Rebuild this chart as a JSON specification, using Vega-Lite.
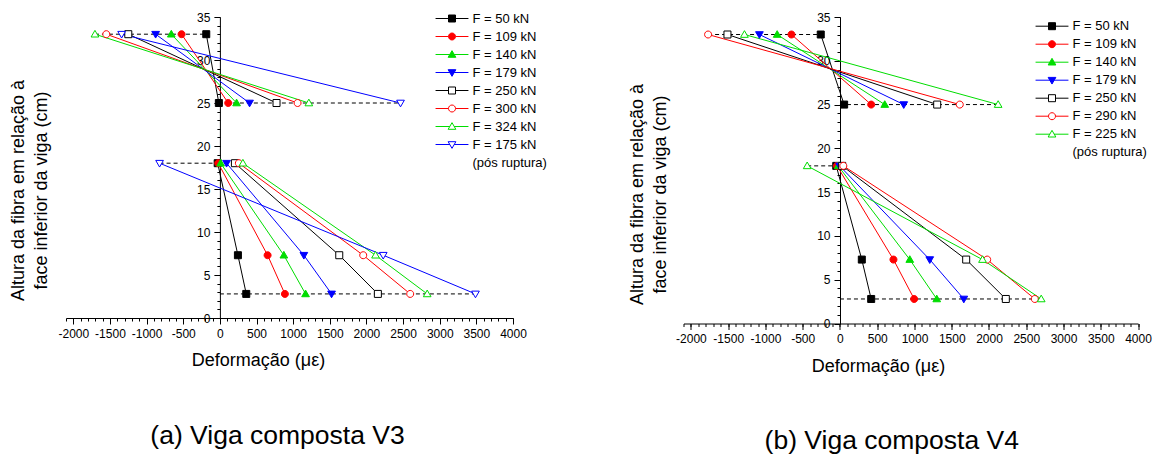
{
  "$schema": "https://vega.github.io/schema/vega-lite/v6.json",
  "padding": {"left": 9, "top": 11, "right": 5, "bottom": 5},
  "config": {
    "font": "Liberation Sans",
    "view": {"stroke": null},
    "concat": {"spacing": 79.5},
    "axis": {"labelFontSize": 12, "titleFontSize": 18, "titleFontWeight": "normal", "domainColor": "black", "tickColor": "black", "labelColor": "black", "titleColor": "black", "grid": false, "labelFlush": false, "labelOverlap": false, "domainWidth": 1, "tickWidth": 1, "labelExpr": "'' + datum.value"},
    "legend": {"labelFont": "Liberation Sans", "labelFontSize": 13, "labelColor": "black"},
    "title": {"font": "Liberation Sans", "fontSize": 26.5, "fontWeight": "normal", "color": "black"}
  },
  "datasets": {
    "va": [
      {"F": "F = 50 kN", "part": "top", "h": 33, "eps": -186},
      {"F": "F = 50 kN", "part": "top", "h": 25, "eps": -14},
      {"F": "F = 50 kN", "part": "bot", "h": 18, "eps": -30},
      {"F": "F = 50 kN", "part": "bot", "h": 7.3, "eps": 246},
      {"F": "F = 50 kN", "part": "bot", "h": 2.8, "eps": 360},
      {"F": "F = 109 kN", "part": "top", "h": 33, "eps": -523},
      {"F": "F = 109 kN", "part": "top", "h": 25, "eps": 114},
      {"F": "F = 109 kN", "part": "bot", "h": 18, "eps": -22},
      {"F": "F = 109 kN", "part": "bot", "h": 7.3, "eps": 651},
      {"F": "F = 109 kN", "part": "bot", "h": 2.8, "eps": 887},
      {"F": "F = 140 kN", "part": "top", "h": 33, "eps": -663},
      {"F": "F = 140 kN", "part": "top", "h": 25, "eps": 228},
      {"F": "F = 140 kN", "part": "bot", "h": 18, "eps": 10},
      {"F": "F = 140 kN", "part": "bot", "h": 7.3, "eps": 873},
      {"F": "F = 140 kN", "part": "bot", "h": 2.8, "eps": 1169},
      {"F": "F = 179 kN", "part": "top", "h": 33, "eps": -877},
      {"F": "F = 179 kN", "part": "top", "h": 25, "eps": 405},
      {"F": "F = 179 kN", "part": "bot", "h": 18, "eps": 91},
      {"F": "F = 179 kN", "part": "bot", "h": 7.3, "eps": 1146},
      {"F": "F = 179 kN", "part": "bot", "h": 2.8, "eps": 1524},
      {"F": "F = 250 kN", "part": "top", "h": 33, "eps": -1250},
      {"F": "F = 250 kN", "part": "top", "h": 25, "eps": 773},
      {"F": "F = 250 kN", "part": "bot", "h": 18, "eps": 205},
      {"F": "F = 250 kN", "part": "bot", "h": 7.3, "eps": 1629},
      {"F": "F = 250 kN", "part": "bot", "h": 2.8, "eps": 2156},
      {"F": "F = 300 kN", "part": "top", "h": 33, "eps": -1550},
      {"F": "F = 300 kN", "part": "top", "h": 25, "eps": 1060},
      {"F": "F = 300 kN", "part": "bot", "h": 18, "eps": 259},
      {"F": "F = 300 kN", "part": "bot", "h": 7.3, "eps": 1956},
      {"F": "F = 300 kN", "part": "bot", "h": 2.8, "eps": 2597},
      {"F": "F = 324 kN", "part": "top", "h": 33, "eps": -1705},
      {"F": "F = 324 kN", "part": "top", "h": 25, "eps": 1214},
      {"F": "F = 324 kN", "part": "bot", "h": 18, "eps": 314},
      {"F": "F = 324 kN", "part": "bot", "h": 7.3, "eps": 2124},
      {"F": "F = 324 kN", "part": "bot", "h": 2.8, "eps": 2829},
      {"F": "F = 175 kN", "part": "top", "h": 33, "eps": -1341},
      {"F": "F = 175 kN", "part": "top", "h": 25, "eps": 2465},
      {"F": "F = 175 kN", "part": "bot", "h": 18, "eps": -823},
      {"F": "F = 175 kN", "part": "bot", "h": 7.3, "eps": 2229},
      {"F": "F = 175 kN", "part": "bot", "h": 2.8, "eps": 3488}
    ],
    "vb": [
      {"F": "F = 50 kN", "part": "top", "h": 33, "eps": -258},
      {"F": "F = 50 kN", "part": "top", "h": 25, "eps": 56},
      {"F": "F = 50 kN", "part": "bot", "h": 18, "eps": -50},
      {"F": "F = 50 kN", "part": "bot", "h": 7.3, "eps": 293},
      {"F": "F = 50 kN", "part": "bot", "h": 2.8, "eps": 419},
      {"F": "F = 109 kN", "part": "top", "h": 33, "eps": -651},
      {"F": "F = 109 kN", "part": "top", "h": 25, "eps": 419},
      {"F": "F = 109 kN", "part": "bot", "h": 18, "eps": -40},
      {"F": "F = 109 kN", "part": "bot", "h": 7.3, "eps": 718},
      {"F": "F = 109 kN", "part": "bot", "h": 2.8, "eps": 996},
      {"F": "F = 140 kN", "part": "top", "h": 33, "eps": -843},
      {"F": "F = 140 kN", "part": "top", "h": 25, "eps": 601},
      {"F": "F = 140 kN", "part": "bot", "h": 18, "eps": -25},
      {"F": "F = 140 kN", "part": "bot", "h": 7.3, "eps": 937},
      {"F": "F = 140 kN", "part": "bot", "h": 2.8, "eps": 1299},
      {"F": "F = 179 kN", "part": "top", "h": 33, "eps": -1081},
      {"F": "F = 179 kN", "part": "top", "h": 25, "eps": 856},
      {"F": "F = 179 kN", "part": "bot", "h": 18, "eps": -5},
      {"F": "F = 179 kN", "part": "bot", "h": 7.3, "eps": 1205},
      {"F": "F = 179 kN", "part": "bot", "h": 2.8, "eps": 1662},
      {"F": "F = 250 kN", "part": "top", "h": 33, "eps": -1510},
      {"F": "F = 250 kN", "part": "top", "h": 25, "eps": 1305},
      {"F": "F = 250 kN", "part": "bot", "h": 18, "eps": 30},
      {"F": "F = 250 kN", "part": "bot", "h": 7.3, "eps": 1694},
      {"F": "F = 250 kN", "part": "bot", "h": 2.8, "eps": 2226},
      {"F": "F = 290 kN", "part": "top", "h": 33, "eps": -1770},
      {"F": "F = 290 kN", "part": "top", "h": 25, "eps": 1608},
      {"F": "F = 290 kN", "part": "bot", "h": 18, "eps": 45},
      {"F": "F = 290 kN", "part": "bot", "h": 7.3, "eps": 1976},
      {"F": "F = 290 kN", "part": "bot", "h": 2.8, "eps": 2615},
      {"F": "F = 225 kN", "part": "top", "h": 33, "eps": -1282},
      {"F": "F = 225 kN", "part": "top", "h": 25, "eps": 2123},
      {"F": "F = 225 kN", "part": "bot", "h": 18, "eps": -440},
      {"F": "F = 225 kN", "part": "bot", "h": 7.3, "eps": 1913},
      {"F": "F = 225 kN", "part": "bot", "h": 2.8, "eps": 2701}
    ],
    "ra": [
      {"h": 33, "x1": -1705, "x2": -186},
      {"h": 25, "x1": -14, "x2": 2465},
      {"h": 18, "x1": -823, "x2": -30},
      {"h": 2.8, "x1": 0, "x2": 3488}
    ],
    "rb": [
      {"h": 33, "x1": -1770, "x2": -258},
      {"h": 25, "x1": 0, "x2": 2123},
      {"h": 18, "x1": -440, "x2": -50},
      {"h": 2.8, "x1": 0, "x2": 2701}
    ]
  },
  "resolve": {
    "scale": {"stroke": "independent", "fill": "independent", "shape": "independent", "x": "independent", "y": "independent"},
    "legend": {"stroke": "independent", "fill": "independent", "shape": "independent"}
  },
  "hconcat": [
    {
      "width": 447,
      "height": 301,
      "title": {"text": "(a) Viga composta V3", "orient": "bottom", "anchor": "middle", "dx": -12, "offset": 53},
      "resolve": {"axis": {"x": "independent", "y": "independent"}, "scale": {"stroke": "independent", "fill": "independent", "shape": "independent"}},
      "layer": [
        {
          "data": {"name": "ra"},
          "mark": {"type": "rule", "strokeDash": [4, 3], "color": "black", "strokeWidth": 1},
          "encoding": {
            "x": {"field": "x1", "type": "quantitative", "scale": {"domain": [-2100, 4000], "nice": false, "zero": false},
              "axis": {"orient": "bottom", "values": [-2000, -1500, -1000, -500, 0, 500, 1000, 1500, 2000, 2500, 3000, 3500, 4000], "tickSize": 6, "labelPadding": 4, "title": "Deformação (με)", "titleX": 192, "titleY": 42.5, "titleBaseline": "middle", "titleAlign": "center"}},
            "x2": {"field": "x2"},
            "y": {"field": "h", "type": "quantitative", "scale": {"domain": [0, 35], "nice": false, "zero": false},
              "axis": {"orient": "left", "offset": -153.9, "values": [0, 5, 10, 15, 20, 25, 30, 35], "tickSize": 6, "labelPadding": 4, "title": ["Altura da fibra em relação à", "face inferior da viga (cm)"], "titleAngle": -90, "titleX": -201.3, "titleY": 173, "titleBaseline": "middle", "titleAlign": "center", "titleLineHeight": 23}}
          }
        },
        {
          "data": {"name": "va"},
          "mark": {"type": "line", "strokeWidth": 1},
          "encoding": {
            "x": {"field": "eps", "type": "quantitative",
              "axis": {"orient": "bottom", "values": [-2100,-2000,-1900,-1800,-1700,-1600,-1500,-1400,-1300,-1200,-1100,-1000,-900,-800,-700,-600,-500,-400,-300,-200,-100,0,100,200,300,400,500,600,700,800,900,1000,1100,1200,1300,1400,1500,1600,1700,1800,1900,2000,2100,2200,2300,2400,2500,2600,2700,2800,2900,3000,3100,3200,3300,3400,3500,3600,3700,3800,3900,4000], "tickSize": 3, "labels": false, "domain": false, "title": null}},
            "y": {"field": "h", "type": "quantitative",
              "axis": {"orient": "left", "offset": -153.9, "values": [0,1,2,3,4,5,6,7,8,9,10,11,12,13,14,15,16,17,18,19,20,21,22,23,24,25,26,27,28,29,30,31,32,33,34,35], "tickSize": 3, "labels": false, "domain": false, "title": null}},
            "detail": {"field": "part"},
            "order": {"field": "h", "sort": "descending"},
            "stroke": {"field": "F", "type": "nominal", "legend": null,
              "scale": {"domain": ["F = 50 kN", "F = 109 kN", "F = 140 kN", "F = 179 kN", "F = 250 kN", "F = 300 kN", "F = 324 kN", "F = 175 kN", "(pós ruptura)"],
                "range": ["#000000", "#ff0000", "#00dd00", "#0000ff", "#000000", "#ff0000", "#00dd00", "#0000ff", "transparent"]}}
          }
        },
        {
          "data": {"name": "va"},
          "mark": {"type": "point", "filled": true, "size": 49, "strokeWidth": 1, "opacity": 1},
          "encoding": {
            "x": {"field": "eps", "type": "quantitative", "axis": null},
            "y": {"field": "h", "type": "quantitative", "axis": null},
            "stroke": {"field": "F", "type": "nominal", "legend": null,
              "scale": {"domain": ["F = 50 kN", "F = 109 kN", "F = 140 kN", "F = 179 kN", "F = 250 kN", "F = 300 kN", "F = 324 kN", "F = 175 kN", "(pós ruptura)"],
                "range": ["#000000", "#ff0000", "#00dd00", "#0000ff", "#000000", "#ff0000", "#00dd00", "#0000ff", "transparent"]}},
            "fill": {"field": "F", "type": "nominal", "legend": null,
              "scale": {"domain": ["F = 50 kN", "F = 109 kN", "F = 140 kN", "F = 179 kN", "F = 250 kN", "F = 300 kN", "F = 324 kN", "F = 175 kN", "(pós ruptura)"],
                "range": ["#000000", "#ff0000", "#00dd00", "#0000ff", "#ffffff", "#ffffff", "#ffffff", "#ffffff", "transparent"]}},
            "shape": {"field": "F", "type": "nominal", "legend": null,
              "scale": {"domain": ["F = 50 kN", "F = 109 kN", "F = 140 kN", "F = 179 kN", "F = 250 kN", "F = 300 kN", "F = 324 kN", "F = 175 kN", "(pós ruptura)"],
                "range": ["M-1,-1H1V1H-1Z", "M1,0A1,1,0,1,1,-1,0A1,1,0,1,1,1,0Z", "M0,-1.1L1.1,0.8H-1.1Z", "M0,1.1L1.1,-0.8H-1.1Z", "M-1,-1H1V1H-1Z", "M1,0A1,1,0,1,1,-1,0A1,1,0,1,1,1,0Z", "M0,-1.1L1.1,0.8H-1.1Z", "M0,1.1L1.1,-0.8H-1.1Z", "M0,0"]}}
          }
        },
        {
          "data": {"name": "va"},
          "transform": [{"filter": "datum.h > 100"}],
          "mark": {"type": "point", "filled": true, "size": 49, "strokeWidth": 1, "opacity": 1},
          "encoding": {
            "x": {"field": "eps", "type": "quantitative", "axis": null},
            "y": {"field": "h", "type": "quantitative", "axis": null},
            "stroke": {"field": "F", "type": "nominal",
              "legend": {"title": null, "orient": "none", "legendX": 379.5, "legendY": -5, "symbolSize": 49, "symbolStrokeWidth": 1, "labelOffset": 14, "rowPadding": 4, "padding": 0},
              "scale": {"domain": ["F = 50 kN", "F = 109 kN", "F = 140 kN", "F = 179 kN", "F = 250 kN", "F = 300 kN", "F = 324 kN", "F = 175 kN", "(pós ruptura)"],
                "range": ["#000000", "#ff0000", "#00dd00", "#0000ff", "#000000", "#ff0000", "#00dd00", "#0000ff", "transparent"]}},
            "fill": {"field": "F", "type": "nominal",
              "legend": {"title": null, "orient": "none", "legendX": 379.5, "legendY": -5, "symbolSize": 49, "symbolStrokeWidth": 1, "labelOffset": 14, "rowPadding": 4, "padding": 0},
              "scale": {"domain": ["F = 50 kN", "F = 109 kN", "F = 140 kN", "F = 179 kN", "F = 250 kN", "F = 300 kN", "F = 324 kN", "F = 175 kN", "(pós ruptura)"],
                "range": ["#000000", "#ff0000", "#00dd00", "#0000ff", "#ffffff", "#ffffff", "#ffffff", "#ffffff", "transparent"]}},
            "shape": {"field": "F", "type": "nominal",
              "legend": {"title": null, "orient": "none", "legendX": 379.5, "legendY": -5, "symbolSize": 49, "symbolStrokeWidth": 1, "labelOffset": 14, "rowPadding": 4, "padding": 0},
              "scale": {"domain": ["F = 50 kN", "F = 109 kN", "F = 140 kN", "F = 179 kN", "F = 250 kN", "F = 300 kN", "F = 324 kN", "F = 175 kN", "(pós ruptura)"],
                "range": ["M-4.7,0H-1M1,0H4.7M-1,-1H1V1H-1Z", "M-4.7,0H-1M1,0H4.7M1,0A1,1,0,1,1,-1,0A1,1,0,1,1,1,0Z", "M-4.7,0H-0.6M0.6,0H4.7M0,-1.1L1.1,0.8H-1.1Z", "M-4.7,0H-0.6M0.6,0H4.7M0,1.1L1.1,-0.8H-1.1Z", "M-4.7,0H-1M1,0H4.7M-1,-1H1V1H-1Z", "M-4.7,0H-1M1,0H4.7M1,0A1,1,0,1,1,-1,0A1,1,0,1,1,1,0Z", "M-4.7,0H-0.6M0.6,0H4.7M0,-1.1L1.1,0.8H-1.1Z", "M-4.7,0H-0.6M0.6,0H4.7M0,1.1L1.1,-0.8H-1.1Z", "M0,0"]}}
          }
        }
      ]
    },
    {
      "width": 454.5,
      "height": 306.5,
      "title": {"text": "(b) Viga composta V4", "orient": "bottom", "anchor": "middle", "dx": -19, "offset": 53},
      "resolve": {"axis": {"x": "independent", "y": "independent"}, "scale": {"stroke": "independent", "fill": "independent", "shape": "independent"}},
      "layer": [
        {
          "data": {"name": "rb"},
          "mark": {"type": "rule", "strokeDash": [4, 3], "color": "black", "strokeWidth": 1},
          "encoding": {
            "x": {"field": "x1", "type": "quantitative", "scale": {"domain": [-2100, 4000], "nice": false, "zero": false},
              "axis": {"orient": "bottom", "values": [-2000, -1500, -1000, -500, 0, 500, 1000, 1500, 2000, 2500, 3000, 3500, 4000], "tickSize": 6, "labelPadding": 4, "title": "Deformação (με)", "titleX": 194.5, "titleY": 42.5, "titleBaseline": "middle", "titleAlign": "center"}},
            "x2": {"field": "x2"},
            "y": {"field": "h", "type": "quantitative", "scale": {"domain": [0, 35], "nice": false, "zero": false},
              "axis": {"orient": "left", "offset": -156.5, "values": [0, 5, 10, 15, 20, 25, 30, 35], "tickSize": 6, "labelPadding": 4, "title": ["Altura da fibra em relação à", "face inferior da viga (cm)"], "titleAngle": -90, "titleX": -202.5, "titleY": 177, "titleBaseline": "middle", "titleAlign": "center", "titleLineHeight": 23}}
          }
        },
        {
          "data": {"name": "vb"},
          "mark": {"type": "line", "strokeWidth": 1},
          "encoding": {
            "x": {"field": "eps", "type": "quantitative",
              "axis": {"orient": "bottom", "values": [-2100,-2000,-1900,-1800,-1700,-1600,-1500,-1400,-1300,-1200,-1100,-1000,-900,-800,-700,-600,-500,-400,-300,-200,-100,0,100,200,300,400,500,600,700,800,900,1000,1100,1200,1300,1400,1500,1600,1700,1800,1900,2000,2100,2200,2300,2400,2500,2600,2700,2800,2900,3000,3100,3200,3300,3400,3500,3600,3700,3800,3900,4000], "tickSize": 3, "labels": false, "domain": false, "title": null}},
            "y": {"field": "h", "type": "quantitative",
              "axis": {"orient": "left", "offset": -156.5, "values": [0,1,2,3,4,5,6,7,8,9,10,11,12,13,14,15,16,17,18,19,20,21,22,23,24,25,26,27,28,29,30,31,32,33,34,35], "tickSize": 3, "labels": false, "domain": false, "title": null}},
            "detail": {"field": "part"},
            "order": {"field": "h", "sort": "descending"},
            "stroke": {"field": "F", "type": "nominal", "legend": null,
              "scale": {"domain": ["F = 50 kN", "F = 109 kN", "F = 140 kN", "F = 179 kN", "F = 250 kN", "F = 290 kN", "F = 225 kN", "(pós ruptura)"],
                "range": ["#000000", "#ff0000", "#00dd00", "#0000ff", "#000000", "#ff0000", "#00dd00", "transparent"]}}
          }
        },
        {
          "data": {"name": "vb"},
          "mark": {"type": "point", "filled": true, "size": 49, "strokeWidth": 1, "opacity": 1},
          "encoding": {
            "x": {"field": "eps", "type": "quantitative", "axis": null},
            "y": {"field": "h", "type": "quantitative", "axis": null},
            "stroke": {"field": "F", "type": "nominal", "legend": null,
              "scale": {"domain": ["F = 50 kN", "F = 109 kN", "F = 140 kN", "F = 179 kN", "F = 250 kN", "F = 290 kN", "F = 225 kN", "(pós ruptura)"],
                "range": ["#000000", "#ff0000", "#00dd00", "#0000ff", "#000000", "#ff0000", "#00dd00", "transparent"]}},
            "fill": {"field": "F", "type": "nominal", "legend": null,
              "scale": {"domain": ["F = 50 kN", "F = 109 kN", "F = 140 kN", "F = 179 kN", "F = 250 kN", "F = 290 kN", "F = 225 kN", "(pós ruptura)"],
                "range": ["#000000", "#ff0000", "#00dd00", "#0000ff", "#ffffff", "#ffffff", "#ffffff", "transparent"]}},
            "shape": {"field": "F", "type": "nominal", "legend": null,
              "scale": {"domain": ["F = 50 kN", "F = 109 kN", "F = 140 kN", "F = 179 kN", "F = 250 kN", "F = 290 kN", "F = 225 kN", "(pós ruptura)"],
                "range": ["M-1,-1H1V1H-1Z", "M1,0A1,1,0,1,1,-1,0A1,1,0,1,1,1,0Z", "M0,-1.1L1.1,0.8H-1.1Z", "M0,1.1L1.1,-0.8H-1.1Z", "M-1,-1H1V1H-1Z", "M1,0A1,1,0,1,1,-1,0A1,1,0,1,1,1,0Z", "M0,-1.1L1.1,0.8H-1.1Z", "M0,0"]}}
          }
        },
        {
          "data": {"name": "vb"},
          "transform": [{"filter": "datum.h > 100"}],
          "mark": {"type": "point", "filled": true, "size": 49, "strokeWidth": 1, "opacity": 1},
          "encoding": {
            "x": {"field": "eps", "type": "quantitative", "axis": null},
            "y": {"field": "h", "type": "quantitative", "axis": null},
            "stroke": {"field": "F", "type": "nominal",
              "legend": {"title": null, "orient": "none", "legendX": 362, "legendY": 2.7, "symbolSize": 49, "symbolStrokeWidth": 1, "labelOffset": 14, "rowPadding": 4, "padding": 0},
              "scale": {"domain": ["F = 50 kN", "F = 109 kN", "F = 140 kN", "F = 179 kN", "F = 250 kN", "F = 290 kN", "F = 225 kN", "(pós ruptura)"],
                "range": ["#000000", "#ff0000", "#00dd00", "#0000ff", "#000000", "#ff0000", "#00dd00", "transparent"]}},
            "fill": {"field": "F", "type": "nominal",
              "legend": {"title": null, "orient": "none", "legendX": 362, "legendY": 2.7, "symbolSize": 49, "symbolStrokeWidth": 1, "labelOffset": 14, "rowPadding": 4, "padding": 0},
              "scale": {"domain": ["F = 50 kN", "F = 109 kN", "F = 140 kN", "F = 179 kN", "F = 250 kN", "F = 290 kN", "F = 225 kN", "(pós ruptura)"],
                "range": ["#000000", "#ff0000", "#00dd00", "#0000ff", "#ffffff", "#ffffff", "#ffffff", "transparent"]}},
            "shape": {"field": "F", "type": "nominal",
              "legend": {"title": null, "orient": "none", "legendX": 362, "legendY": 2.7, "symbolSize": 49, "symbolStrokeWidth": 1, "labelOffset": 14, "rowPadding": 4, "padding": 0},
              "scale": {"domain": ["F = 50 kN", "F = 109 kN", "F = 140 kN", "F = 179 kN", "F = 250 kN", "F = 290 kN", "F = 225 kN", "(pós ruptura)"],
                "range": ["M-4.7,0H-1M1,0H4.7M-1,-1H1V1H-1Z", "M-4.7,0H-1M1,0H4.7M1,0A1,1,0,1,1,-1,0A1,1,0,1,1,1,0Z", "M-4.7,0H-0.6M0.6,0H4.7M0,-1.1L1.1,0.8H-1.1Z", "M-4.7,0H-0.6M0.6,0H4.7M0,1.1L1.1,-0.8H-1.1Z", "M-4.7,0H-1M1,0H4.7M-1,-1H1V1H-1Z", "M-4.7,0H-1M1,0H4.7M1,0A1,1,0,1,1,-1,0A1,1,0,1,1,1,0Z", "M-4.7,0H-0.6M0.6,0H4.7M0,-1.1L1.1,0.8H-1.1Z", "M0,0"]}}
          }
        }
      ]
    }
  ]
}
